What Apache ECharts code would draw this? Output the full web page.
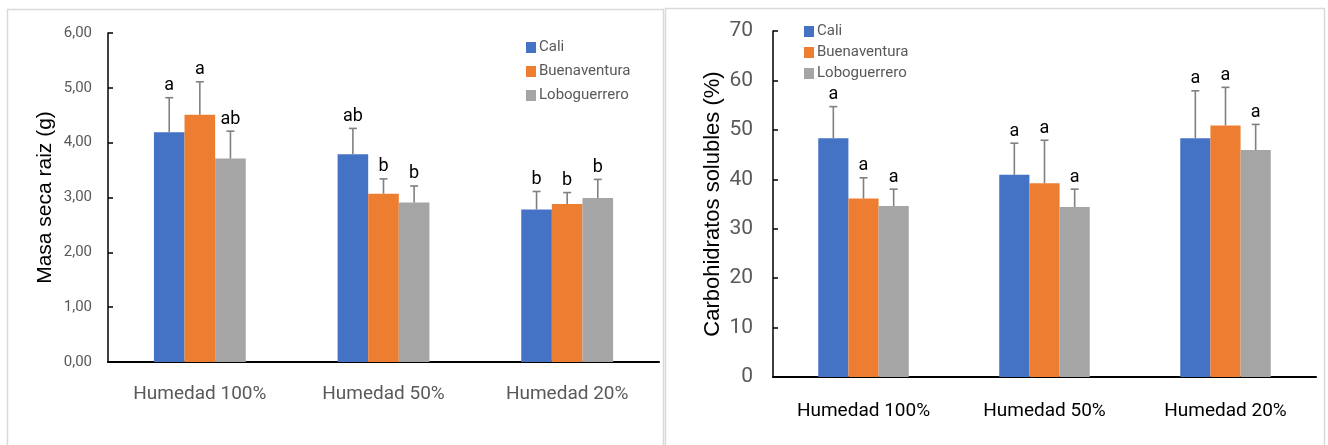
<!DOCTYPE html>
<html>
<head>
<meta charset="utf-8">
<script src="https://cdn.jsdelivr.net/npm/echarts@6/dist/echarts.min.js"></script>
<style>
html,body{margin:0;padding:0;background:#fff;}
#c{width:1328px;height:445px;}
</style>
</head>
<body>
<div id="c"></div>
<script>
const categories = ['Humedad 100%', 'Humedad 50%', 'Humedad 20%'];
const seriesNames = ['Cali', 'Buenaventura', 'Loboguerrero'];

// Masa seca raiz (g)
const masaCali = [4.19, 3.79, 2.78];
const masaBuenaventura = [4.51, 3.07, 2.88];
const masaLoboguerrero = [3.71, 2.91, 2.99];
const masaErrCali = [0.63, 0.47, 0.33];
const masaErrBuenaventura = [0.60, 0.27, 0.21];
const masaErrLoboguerrero = [0.50, 0.30, 0.34];
const masaLetrasCali = ['a', 'ab', 'b'];
const masaLetrasBuenaventura = ['a', 'b', 'b'];
const masaLetrasLoboguerrero = ['ab', 'b', 'b'];
const masaTicks = ['0,00', '1,00', '2,00', '3,00', '4,00', '5,00', '6,00'];

// Carbohidratos solubles (%)
const carbCali = [48.3, 40.9, 48.3];
const carbBuenaventura = [36.1, 39.2, 50.9];
const carbLoboguerrero = [34.6, 34.4, 45.9];
const carbErrCali = [6.4, 6.4, 9.6];
const carbErrBuenaventura = [4.2, 8.7, 7.7];
const carbErrLoboguerrero = [3.4, 3.6, 5.2];
const carbLetrasCali = ['a', 'a', 'a'];
const carbLetrasBuenaventura = ['a', 'a', 'a'];
const carbLetrasLoboguerrero = ['a', 'a', 'a'];
const carbTicks = ['0', '10', '20', '30', '40', '50', '60', '70'];

const colors = ['#4472C4', '#ED7D31', '#A5A5A5'];
const narrow = '"Roboto", "Liberation Sans", sans-serif';
const wide = '"Liberation Sans", "DejaVu Sans", sans-serif';

const chart = echarts.init(document.getElementById('c'), null, {renderer: 'canvas'});

function errSeries(k, gridIdx, means, errs, letters) {
  return {
    type: 'custom',
    xAxisIndex: gridIdx,
    yAxisIndex: gridIdx,
    z: 5,
    silent: true,
    data: means.map((m, i) => [i, m, m + errs[i]]),
    renderItem: function (params, api) {
      const base = api.coord([api.value(0), api.value(1)]);
      const top = api.coord([api.value(0), api.value(2)]);
      const band = api.size([1, 0])[0];
      const bw = band * 0.5 / 3;
      const cx = base[0] + (k - 1) * bw;
      const lineStyle = {stroke: '#808080', lineWidth: 1.6};
      return {
        type: 'group',
        children: [
          {type: 'line', shape: {x1: cx, y1: base[1], x2: cx, y2: top[1]}, style: lineStyle},
          {type: 'line', shape: {x1: cx - 4, y1: top[1], x2: cx + 4, y2: top[1]}, style: lineStyle},
          {type: 'text', x: cx, y: top[1] - 3,
           style: {text: letters[params.dataIndex], fill: '#000', font: '18px ' + narrow,
                   textAlign: 'center', textVerticalAlign: 'bottom'}}
        ]
      };
    }
  };
}

function barSeries(k, gridIdx, values) {
  return {
    name: seriesNames[k],
    type: 'bar',
    xAxisIndex: gridIdx,
    yAxisIndex: gridIdx,
    data: values,
    barGap: '0%',
    barCategoryGap: '50%',
    itemStyle: {color: colors[k]},
    emphasis: {disabled: true}
  };
}

const legendBase = {
  orient: 'vertical',
  icon: 'rect',
  itemWidth: 10,
  itemHeight: 11,
  data: seriesNames,
  selectedMode: false
};

chart.setOption({
  animation: false,
  color: colors,
  graphic: [
    {type: 'rect', shape: {x: 7.5, y: 9.5, width: 656, height: 450}, style: {fill: 'none', stroke: '#d9d9d9', lineWidth: 1.5}, silent: true},
    {type: 'rect', shape: {x: 665.5, y: 8.5, width: 659, height: 450}, style: {fill: 'none', stroke: '#d9d9d9', lineWidth: 1.5}, silent: true}
  ],
  legend: [
    Object.assign({}, legendBase, {left: 521, top: 35, itemGap: 9, textStyle: {color: '#595959', fontFamily: narrow, fontSize: 15, padding: [0,0,0,-2]}}),
    Object.assign({}, legendBase, {left: 799, top: 19, itemGap: 6, textStyle: {color: '#595959', fontFamily: narrow, fontSize: 15, padding: [0,0,0,-2]}})
  ],
  grid: [
    {left: 108, top: 33, right: 669, bottom: 83},
    {left: 773, top: 31, right: 12, bottom: 68}
  ],
  xAxis: [
    {type: 'category', gridIndex: 0, data: categories,
     axisLine: {lineStyle: {color: '#000', width: 2}}, axisTick: {show: false},
     axisLabel: {color: '#595959', fontSize: 19, fontFamily: narrow, margin: 23, interval: 0}},
    {type: 'category', gridIndex: 1, data: categories,
     axisLine: {lineStyle: {color: '#000', width: 2}}, axisTick: {show: false},
     axisLabel: {color: '#000', fontSize: 19, fontFamily: narrow, margin: 25, interval: 0}}
  ],
  yAxis: [
    {type: 'value', gridIndex: 0, min: 0, max: 6, interval: 1,
     name: 'Masa seca raiz (g)', nameLocation: 'middle', nameGap: 52, nameRotate: 90,
     nameTextStyle: {color: '#000', fontSize: 21, fontFamily: wide},
     axisLine: {show: true, lineStyle: {color: '#000', width: 1.5}},
     axisTick: {show: true, inside: true, length: 5, lineStyle: {color: '#000', width: 1.5}},
     splitLine: {show: false},
     axisLabel: {color: '#595959', fontSize: 15, fontFamily: narrow, margin: 16,
                 formatter: (v) => masaTicks[Math.round(v)]}},
    {type: 'value', gridIndex: 1, min: 0, max: 70, interval: 10,
     name: 'Carbohidratos solubles (%)', nameLocation: 'middle', nameGap: 49, nameRotate: 90,
     nameTextStyle: {color: '#000', fontSize: 22, fontFamily: wide},
     axisLine: {show: true, lineStyle: {color: '#000', width: 1.5}},
     axisTick: {show: true, inside: true, length: 5, lineStyle: {color: '#000', width: 1.5}},
     splitLine: {show: false},
     axisLabel: {color: '#595959', fontSize: 21, fontFamily: narrow, margin: 20,
                 formatter: (v) => carbTicks[Math.round(v / 10)]}}
  ],
  series: [
    barSeries(0, 0, masaCali),
    barSeries(1, 0, masaBuenaventura),
    barSeries(2, 0, masaLoboguerrero),
    barSeries(0, 1, carbCali),
    barSeries(1, 1, carbBuenaventura),
    barSeries(2, 1, carbLoboguerrero),
    errSeries(0, 0, masaCali, masaErrCali, masaLetrasCali),
    errSeries(1, 0, masaBuenaventura, masaErrBuenaventura, masaLetrasBuenaventura),
    errSeries(2, 0, masaLoboguerrero, masaErrLoboguerrero, masaLetrasLoboguerrero),
    errSeries(0, 1, carbCali, carbErrCali, carbLetrasCali),
    errSeries(1, 1, carbBuenaventura, carbErrBuenaventura, carbLetrasBuenaventura),
    errSeries(2, 1, carbLoboguerrero, carbErrLoboguerrero, carbLetrasLoboguerrero)
  ]
});
</script>
</body>
</html>
